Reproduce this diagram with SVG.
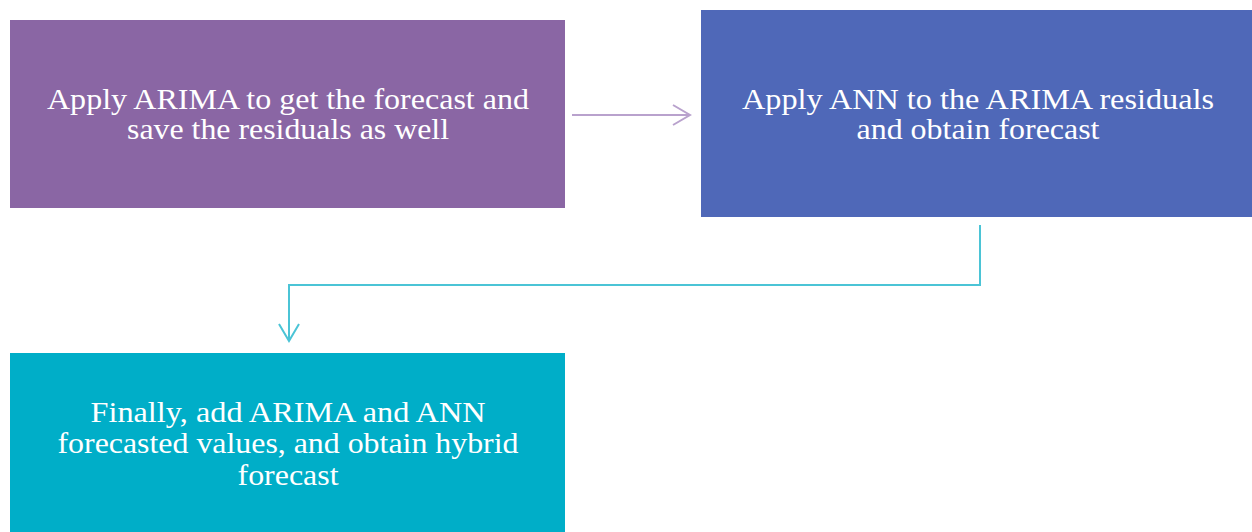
<svg xmlns="http://www.w3.org/2000/svg" width="1252" height="532" viewBox="0 0 1252 532">
<style>
.t{font-family:"Liberation Serif","Times New Roman",serif;font-size:30px;fill:#fff;text-anchor:middle}
</style>
<defs>
<marker id="a1" markerWidth="20" markerHeight="24" refX="18" refY="12" orient="auto" markerUnits="userSpaceOnUse"><path d="M1,2 L18,12 L1,22" fill="none" stroke="#B9A2CD" stroke-width="2"/></marker>
<marker id="a2" markerWidth="24" markerHeight="20" refX="12" refY="18" orient="0" markerUnits="userSpaceOnUse"><path d="M2,1 L12,18 L22,1" fill="none" stroke="#4BC4D6" stroke-width="2"/></marker>
</defs>
<rect width="1252" height="532" fill="#fff"/>
<g id="n1"><rect x="10" y="20" width="555" height="188" fill="#8A66A4"/><text class="t" x="288" y="109" textLength="482" lengthAdjust="spacingAndGlyphs">Apply ARIMA to get the forecast and</text><text class="t" x="288" y="139" textLength="322" lengthAdjust="spacingAndGlyphs">save the residuals as well</text></g>
<g id="n2"><rect x="701" y="10" width="551" height="207" fill="#4F68B8"/><text class="t" x="978" y="109" textLength="472" lengthAdjust="spacingAndGlyphs">Apply ANN to the ARIMA residuals</text><text class="t" x="978" y="139" textLength="243" lengthAdjust="spacingAndGlyphs">and obtain forecast</text></g>
<g id="n3"><rect x="10" y="353" width="555" height="179" fill="#00AEC8"/><text class="t" x="288" y="422" textLength="395" lengthAdjust="spacingAndGlyphs">Finally, add ARIMA and ANN</text><text class="t" x="288" y="453" textLength="461" lengthAdjust="spacingAndGlyphs">forecasted values, and obtain hybrid</text><text class="t" x="288" y="485" textLength="101" lengthAdjust="spacingAndGlyphs">forecast</text></g>
<g id="connectors" fill="none">
<path d="M572,115 H690" stroke="#B9A2CD" stroke-width="2" marker-end="url(#a1)"/>
<path d="M980,225 V285 H289 V341" stroke="#4BC4D6" stroke-width="2" marker-end="url(#a2)"/>
</g>
</svg>
